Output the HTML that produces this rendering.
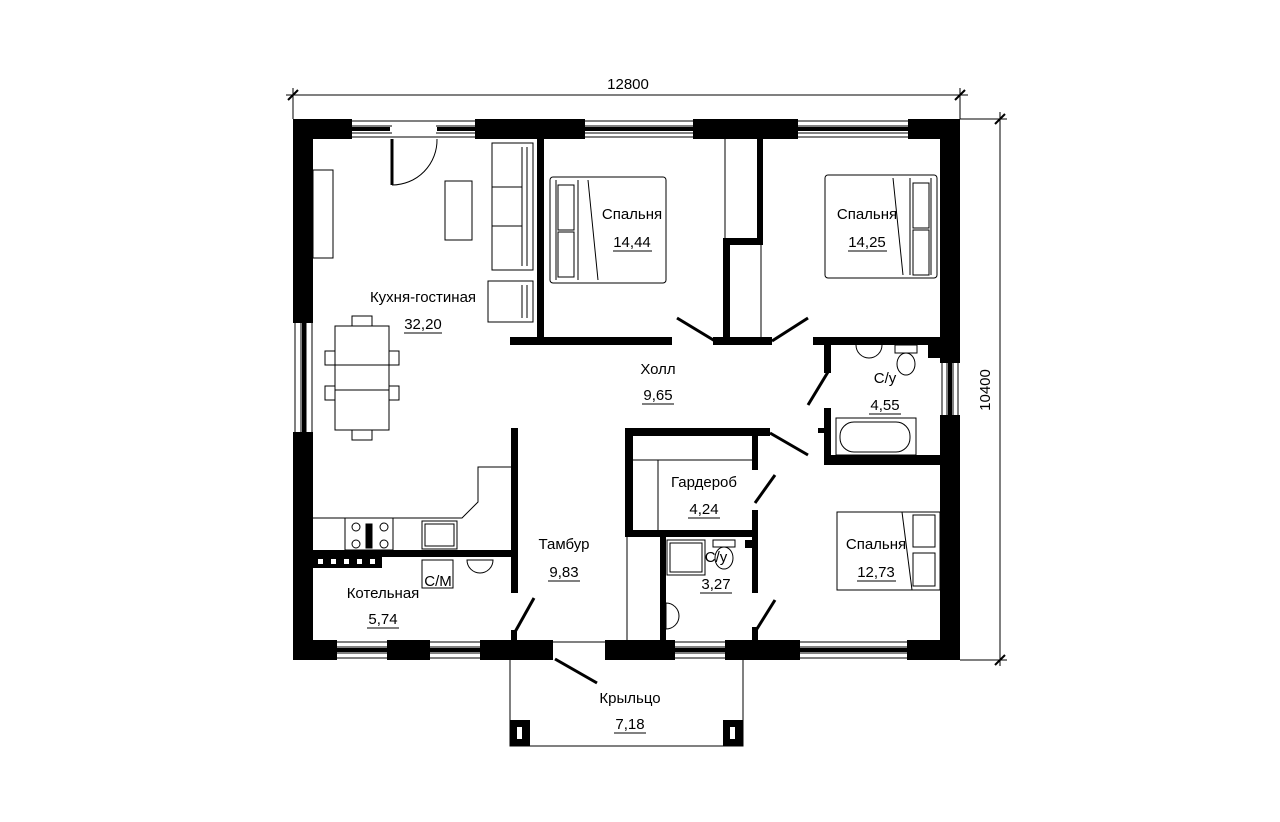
<!DOCTYPE html>
<html><head><meta charset="utf-8"><style>
html,body{margin:0;padding:0;background:#fff}
svg{display:block}
text{font-family:"Liberation Sans",sans-serif;font-size:15px;fill:#000;text-anchor:middle}
</style></head><body>
<svg width="1280" height="822" viewBox="0 0 1280 822" xmlns="http://www.w3.org/2000/svg">
<g fill="none" stroke="#000" stroke-width="1">
<!-- dimensions -->
<line x1="286" y1="95" x2="968" y2="95"/>
<line x1="293" y1="88" x2="293" y2="119"/><line x1="960" y1="88" x2="960" y2="119"/>
<line x1="288" y1="100" x2="298" y2="90" stroke-width="2"/><line x1="955" y1="100" x2="965" y2="90" stroke-width="2"/>
<line x1="1000" y1="112" x2="1000" y2="666"/>
<line x1="960" y1="119" x2="1007" y2="119"/><line x1="960" y1="660" x2="1007" y2="660"/>
<line x1="995" y1="124" x2="1005" y2="114" stroke-width="2"/><line x1="995" y1="665" x2="1005" y2="655" stroke-width="2"/>
</g>
<text x="628" y="89" font-size="16">12800</text>
<text x="0" y="0" font-size="16" transform="translate(990,390) rotate(-90)">10400</text>

<!-- windows thin lines -->
<g stroke="#000" stroke-width="1" fill="none">
<path d="M352 121H475M352 126H475M352 133H475M352 137H475"/>
<path d="M585 121H693M585 126H693M585 133H693M585 137H693"/>
<path d="M798 121H908M798 126H908M798 133H908M798 137H908"/>
<path d="M337 642H387M337 647H387M337 653H387M337 658H387"/>
<path d="M430 642H480M430 647H480M430 653H480M430 658H480"/>
<path d="M675 642H725M675 647H725M675 653H725M675 658H725"/>
<path d="M800 642H907M800 647H907M800 653H907M800 658H907"/>
<path d="M553 642H605"/>
<path d="M295 323V432M301 323V432M306 323V432M312 323V432"/>
<path d="M942 363V415M947 363V415M953 363V415M958 363V415"/>
</g>
<g fill="#000">
<rect x="352" y="127" width="38" height="4"/><rect x="437" y="127" width="38" height="4"/>
<rect x="585" y="127" width="108" height="4"/><rect x="798" y="127" width="110" height="4"/>
<rect x="337" y="648" width="50" height="4"/><rect x="430" y="648" width="50" height="4"/>
<rect x="675" y="648" width="50" height="4"/><rect x="800" y="648" width="107" height="4"/>
<rect x="302" y="323" width="4" height="109"/><rect x="948" y="363" width="4" height="52"/>
</g>
<g fill="#fff" stroke="none"><rect x="392" y="124" width="44" height="12"/></g>

<!-- outer walls -->
<g fill="#000">
<rect x="293" y="119" width="59" height="20"/>
<rect x="475" y="119" width="110" height="20"/>
<rect x="693" y="119" width="105" height="20"/>
<rect x="908" y="119" width="52" height="20"/>
<rect x="293" y="119" width="20" height="204"/>
<rect x="293" y="432" width="20" height="228"/>
<rect x="940" y="119" width="20" height="244"/>
<rect x="940" y="415" width="20" height="245"/>
<rect x="293" y="640" width="44" height="20"/>
<rect x="387" y="640" width="43" height="20"/>
<rect x="480" y="640" width="73" height="20"/>
<rect x="605" y="640" width="70" height="20"/>
<rect x="725" y="640" width="75" height="20"/>
<rect x="907" y="640" width="53" height="20"/>
<!-- interior walls -->
<rect x="537" y="139" width="7" height="206"/>
<rect x="510" y="337" width="162" height="8"/>
<rect x="713" y="337" width="59" height="8"/>
<rect x="813" y="337" width="127" height="8"/>
<rect x="723" y="240" width="7" height="100"/>
<rect x="757" y="139" width="6" height="106"/>
<rect x="723" y="238" width="40" height="7"/>
<rect x="824" y="340" width="7" height="33"/>
<rect x="824" y="408" width="7" height="57"/>
<rect x="818" y="428" width="8" height="5"/>
<rect x="824" y="455" width="116" height="10"/>
<rect x="928" y="345" width="12" height="13"/>
<rect x="625" y="428" width="145" height="8"/>
<rect x="625" y="428" width="8" height="109"/>
<rect x="625" y="530" width="133" height="7"/>
<rect x="752" y="428" width="6" height="42"/>
<rect x="752" y="510" width="6" height="83"/>
<rect x="745" y="540" width="8" height="8"/>
<rect x="660" y="537" width="6" height="103"/>
<rect x="752" y="627" width="6" height="13"/>
<rect x="313" y="550" width="205" height="7"/>
<rect x="313" y="557" width="69" height="11"/>
<rect x="511" y="428" width="7" height="165"/>
<rect x="511" y="630" width="6" height="10"/>
<rect x="510" y="720" width="20" height="26"/>
<rect x="723" y="720" width="20" height="26"/>
</g>
<g fill="#fff">
<rect x="318" y="559" width="5" height="5"/><rect x="331" y="559" width="5" height="5"/><rect x="344" y="559" width="5" height="5"/><rect x="357" y="559" width="5" height="5"/><rect x="370" y="559" width="5" height="5"/>
<rect x="517" y="727" width="5" height="12"/><rect x="730" y="727" width="5" height="12"/>
</g>

<g fill="none" stroke="#000" stroke-width="1">
<!-- closet thin lines -->
<line x1="725" y1="139" x2="725" y2="240"/><line x1="761" y1="245" x2="761" y2="340"/>
<!-- porch -->
<path d="M510 660V746H743V660"/>
<!-- wardrobe inner -->
<path d="M633 460H752M658 460V530"/>
<path d="M627 537V640"/>
<!-- kitchen counter -->
<path d="M313 518H462L478 502V467H511"/>
<!-- furniture -->
<rect x="313" y="170" width="20" height="88"/>
<rect x="445" y="181" width="27" height="59"/>
<rect x="492" y="143" width="41" height="127"/><path d="M522 147V266M527 147V266M492 187H522M492 226H522"/>
<rect x="488" y="281" width="45" height="41"/><path d="M522 285V318M527 285V318"/>
<path d="M392 185A45 45 0 0 0 437 139"/>
<rect x="335" y="326" width="54" height="104"/><path d="M335 365H389M335 390H389"/>
<rect x="352" y="316" width="20" height="10"/><rect x="352" y="430" width="20" height="10"/>
<rect x="325" y="351" width="10" height="14"/><rect x="325" y="386" width="10" height="14"/>
<rect x="389" y="351" width="10" height="14"/><rect x="389" y="386" width="10" height="14"/>
<rect x="550" y="177" width="116" height="106" rx="3"/><path d="M556 180V280M578 180V280M588 180L598 280"/>
<rect x="558" y="185" width="16" height="45"/><rect x="558" y="232" width="16" height="45"/>
<rect x="825" y="175" width="112" height="103" rx="3"/><path d="M931 178V275M910 178V275M893 178L903 275"/>
<rect x="913" y="183" width="16" height="45"/><rect x="913" y="230" width="16" height="45"/>
<rect x="837" y="512" width="103" height="78"/><path d="M902 512L912 590"/>
<rect x="913" y="515" width="22" height="32"/><rect x="913" y="553" width="22" height="33"/>
<rect x="836" y="418" width="80" height="37"/><rect x="840" y="422" width="70" height="30" rx="14"/>
<rect x="345" y="518" width="48" height="32"/><rect x="366" y="524" width="6" height="24" fill="#000"/>
<circle cx="356" cy="527" r="4"/><circle cx="384" cy="527" r="4"/><circle cx="356" cy="544" r="4"/><circle cx="384" cy="544" r="4"/>
<rect x="422" y="521" width="35" height="28"/><rect x="425" y="524" width="29" height="22"/>
<rect x="422" y="560" width="31" height="28"/>
<path d="M467 560A13 13 0 0 0 493 560Z"/>
<path d="M856 345A13 13 0 0 0 882 345"/>
<rect x="895" y="345" width="22" height="8"/><ellipse cx="906" cy="364" rx="9" ry="11"/>
<rect x="667" y="540" width="38" height="35"/><rect x="670" y="543" width="32" height="29"/>
<rect x="713" y="540" width="22" height="7"/><ellipse cx="724" cy="558" rx="9" ry="11"/>
<path d="M666 603A13 13 0 0 1 666 629Z"/>
</g>
<!-- door leaves -->
<g stroke="#000" stroke-width="3" fill="none">
<line x1="392" y1="139" x2="392" y2="185"/>
<line x1="715" y1="341" x2="677" y2="318"/>
<line x1="772" y1="341" x2="808" y2="318"/>
<line x1="828" y1="372" x2="808" y2="405"/>
<line x1="770" y1="433" x2="808" y2="455"/>
<line x1="755" y1="503" x2="775" y2="475"/>
<line x1="755" y1="632" x2="775" y2="600"/>
<line x1="515" y1="632" x2="534" y2="598"/>
<line x1="555" y1="659" x2="597" y2="683"/>
</g>

<!-- labels -->
<g font-size="15">
<text x="423" y="302">Кухня-гостиная</text><text x="423" y="329">32,20</text>
<path d="M404 333H442" stroke="#000"/>
<text x="632" y="219">Спальня</text><text x="632" y="247">14,44</text><path d="M613 251H652" stroke="#000"/>
<text x="867" y="219">Спальня</text><text x="867" y="247">14,25</text><path d="M848 251H887" stroke="#000"/>
<text x="658" y="374">Холл</text><text x="658" y="400">9,65</text><path d="M642 404H674" stroke="#000"/>
<text x="885" y="383">С/у</text><text x="885" y="410">4,55</text><path d="M869 414H901" stroke="#000"/>
<text x="704" y="487">Гардероб</text><text x="704" y="514">4,24</text><path d="M688 518H720" stroke="#000"/>
<text x="564" y="549">Тамбур</text><text x="564" y="577">9,83</text><path d="M548 581H580" stroke="#000"/>
<text x="716" y="562">С/у</text><text x="716" y="589">3,27</text><path d="M700 593H732" stroke="#000"/>
<text x="876" y="549">Спальня</text><text x="876" y="577">12,73</text><path d="M857 581H896" stroke="#000"/>
<text x="383" y="598">Котельная</text><text x="383" y="624">5,74</text><path d="M367 628H399" stroke="#000"/>
<text x="630" y="703">Крыльцо</text><text x="630" y="729">7,18</text><path d="M614 733H646" stroke="#000"/>
<text x="438" y="586" font-size="17">С/М</text>
</g>
</svg>
</body></html>
